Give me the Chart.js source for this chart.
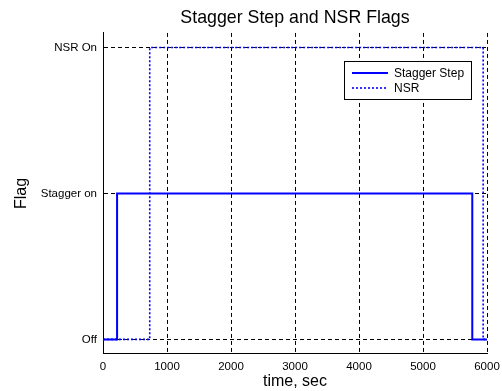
<!DOCTYPE html>
<html lang="en">
<head>
<meta charset="UTF-8">
<title>Stagger Step and NSR Flags</title>
<script src="https://cdn.jsdelivr.net/npm/chart.js@4.4.0/dist/chart.umd.min.js"></script>
<style>
  html, body { margin: 0; padding: 0; background: #fff; }
  #wrap { width: 502px; height: 391px; }
</style>
</head>
<body>
<div id="wrap"><canvas id="chart" width="502" height="391"></canvas></div>
<script>
// data (time in sec, flag level 0/1/2)
var staggerTime = [0, 220, 220, 5770, 5770, 6000];
var staggerFlag = [0, 0, 1, 1, 0, 0];
var nsrTime = [0, 730, 730, 5940, 5940, 6000];
var nsrFlag = [0, 0, 2, 2, 0, 0];

var flagValues = [0, 1, 2];
var flagLabels = ['Off', 'Stagger on', 'NSR On'];
var seriesNames = ['Stagger Step', 'NSR'];

var FONT = "'Liberation Sans', Arial, Helvetica, sans-serif";

function toPoints(xs, ys) {
  return xs.map(function (x, i) { return { x: x, y: ys[i] }; });
}

// legend box drawn inside the plot, like the matlab one
var boxLegend = {
  id: 'boxLegend',
  afterDatasetsDraw: function (chart) {
    var ctx = chart.ctx;
    var area = chart.chartArea;
    var right = Math.round(area.right) - 16, top = Math.round(area.top) + 28;
    var w = 127, h = 38;
    var left = right - w;
    ctx.save();
    ctx.fillStyle = '#fff';
    ctx.fillRect(left, top, w, h);
    ctx.strokeStyle = '#000';
    ctx.lineWidth = 1;
    ctx.strokeRect(left + 0.5, top + 0.5, w, h);
    ctx.font = '12px ' + FONT;
    ctx.textBaseline = 'middle';
    chart.data.datasets.forEach(function (ds, i) {
      var y = top + 12 + i * 15;
      ctx.strokeStyle = ds.borderColor;
      ctx.lineWidth = ds.borderWidth;
      ctx.setLineDash(ds.borderDash || []);
      ctx.beginPath();
      ctx.moveTo(left + 8, y);
      ctx.lineTo(left + 44, y);
      ctx.stroke();
      ctx.fillStyle = '#000';
      ctx.fillText(ds.label, left + 50, y + 1);
    });
    ctx.restore();
  }
};

new Chart(document.getElementById('chart'), {
  type: 'line',
  data: {
    datasets: [{
      label: seriesNames[0],
      data: toPoints(staggerTime, staggerFlag),
      borderColor: '#0000ff',
      borderWidth: 2,
      pointRadius: 0,
      tension: 0
    }, {
      label: seriesNames[1],
      data: toPoints(nsrTime, nsrFlag),
      borderColor: '#0000ff',
      borderWidth: 1.6,
      borderDash: [2, 2],
      pointRadius: 0,
      tension: 0
    }]
  },
  options: {
    responsive: false,
    animation: false,
    layout: { padding: { left: 0, right: 15, top: 0, bottom: 0 } },
    plugins: {
      legend: { display: false },
      tooltip: { enabled: false },
      title: {
        display: true,
        fullSize: false,
        text: 'Stagger Step and NSR Flags',
        color: '#000',
        font: { family: FONT, size: 17.8, weight: 'normal' },
        padding: { top: 7, bottom: 4.6 }
      }
    },
    scales: {
      x: {
        type: 'linear',
        min: 0,
        max: 6000,
        ticks: {
          stepSize: 1000, color: '#000', font: { family: FONT, size: 11.5 }, padding: 6, maxRotation: 0,
          callback: function (v) { return String(v); }
        },
        grid: { color: '#000', lineWidth: 1, drawTicks: false },
        border: { display: true, color: '#000', width: 1, dash: [4, 3] },
        title: { display: true, text: 'time, sec', color: '#000', font: { family: FONT, size: 16 }, padding: { top: 0, bottom: 0 } },
        afterFit: function (s) { s.height = 37; s.paddingLeft = 0; s.paddingRight = 0; }
      },
      y: {
        type: 'linear',
        min: -0.1,
        max: 2.1,
        afterBuildTicks: function (s) {
          s.ticks = flagValues.map(function (v) { return { value: v }; });
        },
        ticks: {
          color: '#000',
          font: { family: FONT, size: 11.5 },
          padding: 6,
          callback: function (v) {
            var i = flagValues.indexOf(v);
            return i >= 0 ? flagLabels[i] : '';
          }
        },
        grid: { color: '#000', lineWidth: 1, drawTicks: false },
        border: { display: true, color: '#000', width: 1, dash: [4, 3] },
        title: { display: true, text: 'Flag', color: '#000', font: { family: FONT, size: 16 }, padding: { top: 12, bottom: 0 } },
        afterFit: function (s) { s.width = 103; s.paddingTop = 0; s.paddingBottom = 0; }
      }
    }
  },
  plugins: [boxLegend]
});
</script>
</body>
</html>
